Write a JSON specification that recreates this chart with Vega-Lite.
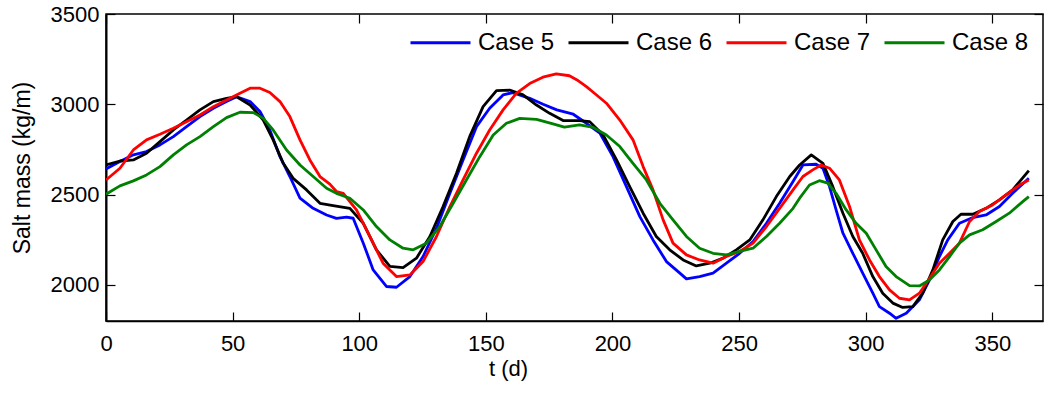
{
  "$schema": "https://vega.github.io/schema/vega-lite/v6.json",
  "width": 937,
  "height": 307,
  "autosize": "none",
  "padding": {"left": 106, "top": 14, "right": 3, "bottom": 73},
  "config": {
    "view": {"stroke": "black", "strokeWidth": 1.5},
    "font": "Liberation Sans",
    "axis": {"labelFont": "Liberation Sans", "titleFont": "Liberation Sans", "labelColor": "black", "titleColor": "black", "tickColor": "black", "domainColor": "black", "grid": false, "tickWidth": 1.2}
  },
  "data": {"values": [
    {"c":"Case 5","t":0,"v":2642},{"c":"Case 5","t":5.5,"v":2683},{"c":"Case 5","t":10.8,"v":2720},{"c":"Case 5","t":16,"v":2738},{"c":"Case 5","t":21.3,"v":2775},{"c":"Case 5","t":26.6,"v":2821},{"c":"Case 5","t":31.8,"v":2876},{"c":"Case 5","t":37.1,"v":2932},{"c":"Case 5","t":42.4,"v":2978},{"c":"Case 5","t":47.6,"v":3015},{"c":"Case 5","t":51.6,"v":3042},{"c":"Case 5","t":56.9,"v":3015},{"c":"Case 5","t":60.8,"v":2960},{"c":"Case 5","t":64.7,"v":2858},{"c":"Case 5","t":68.7,"v":2710},{"c":"Case 5","t":72.6,"v":2600},{"c":"Case 5","t":76.6,"v":2480},{"c":"Case 5","t":81.8,"v":2424},{"c":"Case 5","t":87.1,"v":2387},{"c":"Case 5","t":91,"v":2368},{"c":"Case 5","t":95,"v":2375},{"c":"Case 5","t":97.6,"v":2369},{"c":"Case 5","t":101.6,"v":2231},{"c":"Case 5","t":105.5,"v":2083},{"c":"Case 5","t":110.8,"v":1991},{"c":"Case 5","t":114.7,"v":1987},{"c":"Case 5","t":120,"v":2046},{"c":"Case 5","t":125.2,"v":2157},{"c":"Case 5","t":130.5,"v":2314},{"c":"Case 5","t":135.8,"v":2507},{"c":"Case 5","t":141,"v":2692},{"c":"Case 5","t":146.3,"v":2876},{"c":"Case 5","t":151.5,"v":2978},{"c":"Case 5","t":156.8,"v":3052},{"c":"Case 5","t":160.6,"v":3065},{"c":"Case 5","t":167.3,"v":3033},{"c":"Case 5","t":172.6,"v":3000},{"c":"Case 5","t":178,"v":2969},{"c":"Case 5","t":184.5,"v":2945},{"c":"Case 5","t":189.7,"v":2895},{"c":"Case 5","t":195,"v":2840},{"c":"Case 5","t":200.2,"v":2710},{"c":"Case 5","t":205.5,"v":2544},{"c":"Case 5","t":210.8,"v":2378},{"c":"Case 5","t":216,"v":2249},{"c":"Case 5","t":221.3,"v":2129},{"c":"Case 5","t":226.6,"v":2065},{"c":"Case 5","t":229.2,"v":2033},{"c":"Case 5","t":234.4,"v":2046},{"c":"Case 5","t":239.7,"v":2065},{"c":"Case 5","t":245,"v":2120},{"c":"Case 5","t":250.2,"v":2175},{"c":"Case 5","t":255.5,"v":2240},{"c":"Case 5","t":260.8,"v":2341},{"c":"Case 5","t":266,"v":2452},{"c":"Case 5","t":271.3,"v":2572},{"c":"Case 5","t":275.2,"v":2664},{"c":"Case 5","t":280.4,"v":2668},{"c":"Case 5","t":283.1,"v":2646},{"c":"Case 5","t":285.7,"v":2544},{"c":"Case 5","t":288.3,"v":2415},{"c":"Case 5","t":291,"v":2286},{"c":"Case 5","t":294.9,"v":2175},{"c":"Case 5","t":298.8,"v":2065},{"c":"Case 5","t":302.8,"v":1954},{"c":"Case 5","t":305.4,"v":1880},{"c":"Case 5","t":309.4,"v":1843},{"c":"Case 5","t":312,"v":1815},{"c":"Case 5","t":316,"v":1843},{"c":"Case 5","t":321.2,"v":1917},{"c":"Case 5","t":325.2,"v":2028},{"c":"Case 5","t":329.1,"v":2157},{"c":"Case 5","t":332.4,"v":2249},{"c":"Case 5","t":337,"v":2341},{"c":"Case 5","t":342.3,"v":2373},{"c":"Case 5","t":347.5,"v":2387},{"c":"Case 5","t":352.8,"v":2434},{"c":"Case 5","t":358,"v":2507},{"c":"Case 5","t":364.4,"v":2590},
    {"c":"Case 6","t":0,"v":2664},{"c":"Case 6","t":5.5,"v":2686},{"c":"Case 6","t":10.8,"v":2692},{"c":"Case 6","t":16,"v":2729},{"c":"Case 6","t":21.3,"v":2793},{"c":"Case 6","t":26.6,"v":2858},{"c":"Case 6","t":31.8,"v":2913},{"c":"Case 6","t":37.1,"v":2969},{"c":"Case 6","t":42.4,"v":3015},{"c":"Case 6","t":47.6,"v":3033},{"c":"Case 6","t":51.6,"v":3042},{"c":"Case 6","t":56.9,"v":2996},{"c":"Case 6","t":62.1,"v":2913},{"c":"Case 6","t":66,"v":2803},{"c":"Case 6","t":70,"v":2673},{"c":"Case 6","t":73.9,"v":2590},{"c":"Case 6","t":79.2,"v":2526},{"c":"Case 6","t":84.5,"v":2452},{"c":"Case 6","t":89.7,"v":2439},{"c":"Case 6","t":96.3,"v":2424},{"c":"Case 6","t":101.6,"v":2341},{"c":"Case 6","t":106.8,"v":2194},{"c":"Case 6","t":112.1,"v":2102},{"c":"Case 6","t":117.3,"v":2096},{"c":"Case 6","t":122.6,"v":2148},{"c":"Case 6","t":127.9,"v":2268},{"c":"Case 6","t":133.1,"v":2434},{"c":"Case 6","t":138.4,"v":2618},{"c":"Case 6","t":143.6,"v":2821},{"c":"Case 6","t":148.9,"v":2987},{"c":"Case 6","t":154.2,"v":3076},{"c":"Case 6","t":159.4,"v":3079},{"c":"Case 6","t":164.7,"v":3052},{"c":"Case 6","t":170,"v":2996},{"c":"Case 6","t":175.2,"v":2950},{"c":"Case 6","t":180.5,"v":2910},{"c":"Case 6","t":187.1,"v":2910},{"c":"Case 6","t":191,"v":2904},{"c":"Case 6","t":196.3,"v":2830},{"c":"Case 6","t":201.6,"v":2692},{"c":"Case 6","t":206.8,"v":2544},{"c":"Case 6","t":212.1,"v":2397},{"c":"Case 6","t":217.3,"v":2268},{"c":"Case 6","t":222.6,"v":2194},{"c":"Case 6","t":227.9,"v":2138},{"c":"Case 6","t":233.1,"v":2105},{"c":"Case 6","t":238.4,"v":2120},{"c":"Case 6","t":243.7,"v":2148},{"c":"Case 6","t":248.9,"v":2194},{"c":"Case 6","t":254.2,"v":2249},{"c":"Case 6","t":259.4,"v":2360},{"c":"Case 6","t":264.7,"v":2489},{"c":"Case 6","t":270,"v":2600},{"c":"Case 6","t":273.9,"v":2664},{"c":"Case 6","t":278.5,"v":2720},{"c":"Case 6","t":283.1,"v":2673},{"c":"Case 6","t":287,"v":2544},{"c":"Case 6","t":291,"v":2397},{"c":"Case 6","t":294.9,"v":2268},{"c":"Case 6","t":298.8,"v":2175},{"c":"Case 6","t":302.8,"v":2046},{"c":"Case 6","t":306.7,"v":1954},{"c":"Case 6","t":310.7,"v":1899},{"c":"Case 6","t":314.6,"v":1875},{"c":"Case 6","t":318.6,"v":1880},{"c":"Case 6","t":322.5,"v":1954},{"c":"Case 6","t":326.5,"v":2083},{"c":"Case 6","t":330.4,"v":2249},{"c":"Case 6","t":334.4,"v":2351},{"c":"Case 6","t":337.6,"v":2391},{"c":"Case 6","t":342.3,"v":2391},{"c":"Case 6","t":347.5,"v":2424},{"c":"Case 6","t":352.8,"v":2471},{"c":"Case 6","t":358,"v":2526},{"c":"Case 6","t":364.4,"v":2633},
    {"c":"Case 7","t":0,"v":2581},{"c":"Case 7","t":5.5,"v":2646},{"c":"Case 7","t":10.8,"v":2747},{"c":"Case 7","t":16,"v":2803},{"c":"Case 7","t":21.3,"v":2834},{"c":"Case 7","t":26.6,"v":2867},{"c":"Case 7","t":31.8,"v":2904},{"c":"Case 7","t":37.1,"v":2941},{"c":"Case 7","t":42.4,"v":2987},{"c":"Case 7","t":47.6,"v":3024},{"c":"Case 7","t":52.9,"v":3061},{"c":"Case 7","t":56.9,"v":3089},{"c":"Case 7","t":60.8,"v":3089},{"c":"Case 7","t":64.7,"v":3065},{"c":"Case 7","t":68.7,"v":3015},{"c":"Case 7","t":72.6,"v":2932},{"c":"Case 7","t":76.6,"v":2803},{"c":"Case 7","t":80.5,"v":2692},{"c":"Case 7","t":84.5,"v":2600},{"c":"Case 7","t":88.4,"v":2558},{"c":"Case 7","t":91,"v":2517},{"c":"Case 7","t":93.7,"v":2507},{"c":"Case 7","t":98.9,"v":2415},{"c":"Case 7","t":104.2,"v":2268},{"c":"Case 7","t":109.4,"v":2120},{"c":"Case 7","t":114.7,"v":2046},{"c":"Case 7","t":120,"v":2055},{"c":"Case 7","t":125.2,"v":2129},{"c":"Case 7","t":130.5,"v":2268},{"c":"Case 7","t":135.8,"v":2434},{"c":"Case 7","t":141,"v":2581},{"c":"Case 7","t":146.3,"v":2729},{"c":"Case 7","t":151.5,"v":2858},{"c":"Case 7","t":156.8,"v":2969},{"c":"Case 7","t":162,"v":3061},{"c":"Case 7","t":167.3,"v":3115},{"c":"Case 7","t":172.5,"v":3150},{"c":"Case 7","t":177.8,"v":3168},{"c":"Case 7","t":183,"v":3158},{"c":"Case 7","t":186,"v":3135},{"c":"Case 7","t":189.7,"v":3098},{"c":"Case 7","t":193,"v":3060},{"c":"Case 7","t":197.6,"v":3006},{"c":"Case 7","t":202.9,"v":2913},{"c":"Case 7","t":208.1,"v":2803},{"c":"Case 7","t":212.1,"v":2655},{"c":"Case 7","t":216,"v":2526},{"c":"Case 7","t":220,"v":2360},{"c":"Case 7","t":223.9,"v":2231},{"c":"Case 7","t":229.2,"v":2166},{"c":"Case 7","t":234.4,"v":2138},{"c":"Case 7","t":239.7,"v":2120},{"c":"Case 7","t":245,"v":2157},{"c":"Case 7","t":250.2,"v":2185},{"c":"Case 7","t":255.5,"v":2231},{"c":"Case 7","t":260.8,"v":2323},{"c":"Case 7","t":266,"v":2424},{"c":"Case 7","t":271.3,"v":2526},{"c":"Case 7","t":275.2,"v":2600},{"c":"Case 7","t":279.1,"v":2637},{"c":"Case 7","t":282.4,"v":2664},{"c":"Case 7","t":285.7,"v":2646},{"c":"Case 7","t":289.6,"v":2581},{"c":"Case 7","t":293.6,"v":2434},{"c":"Case 7","t":297.5,"v":2249},{"c":"Case 7","t":301.5,"v":2138},{"c":"Case 7","t":305.4,"v":2046},{"c":"Case 7","t":309.4,"v":1972},{"c":"Case 7","t":313.3,"v":1926},{"c":"Case 7","t":317.3,"v":1917},{"c":"Case 7","t":321.2,"v":1954},{"c":"Case 7","t":325.2,"v":2037},{"c":"Case 7","t":329.1,"v":2120},{"c":"Case 7","t":333.1,"v":2175},{"c":"Case 7","t":337,"v":2231},{"c":"Case 7","t":341,"v":2351},{"c":"Case 7","t":344.9,"v":2406},{"c":"Case 7","t":350.1,"v":2443},{"c":"Case 7","t":355.4,"v":2498},{"c":"Case 7","t":360.7,"v":2553},{"c":"Case 7","t":364.4,"v":2581},
    {"c":"Case 8","t":0,"v":2502},{"c":"Case 8","t":5.5,"v":2548},{"c":"Case 8","t":10.8,"v":2576},{"c":"Case 8","t":16,"v":2609},{"c":"Case 8","t":21.3,"v":2655},{"c":"Case 8","t":26.6,"v":2720},{"c":"Case 8","t":31.8,"v":2775},{"c":"Case 8","t":37.1,"v":2821},{"c":"Case 8","t":42.4,"v":2876},{"c":"Case 8","t":47.6,"v":2926},{"c":"Case 8","t":52.9,"v":2956},{"c":"Case 8","t":58.2,"v":2954},{"c":"Case 8","t":62.1,"v":2922},{"c":"Case 8","t":66,"v":2858},{"c":"Case 8","t":71.3,"v":2747},{"c":"Case 8","t":76.6,"v":2664},{"c":"Case 8","t":81.8,"v":2600},{"c":"Case 8","t":87.1,"v":2535},{"c":"Case 8","t":91,"v":2507},{"c":"Case 8","t":96.3,"v":2480},{"c":"Case 8","t":101.6,"v":2415},{"c":"Case 8","t":106.8,"v":2323},{"c":"Case 8","t":112.1,"v":2249},{"c":"Case 8","t":117.3,"v":2203},{"c":"Case 8","t":121.3,"v":2194},{"c":"Case 8","t":126.5,"v":2231},{"c":"Case 8","t":131.8,"v":2323},{"c":"Case 8","t":137.1,"v":2452},{"c":"Case 8","t":142.3,"v":2581},{"c":"Case 8","t":147.6,"v":2710},{"c":"Case 8","t":152.9,"v":2830},{"c":"Case 8","t":158.1,"v":2895},{"c":"Case 8","t":163.4,"v":2922},{"c":"Case 8","t":170,"v":2917},{"c":"Case 8","t":176.5,"v":2892},{"c":"Case 8","t":181,"v":2874},{"c":"Case 8","t":187,"v":2886},{"c":"Case 8","t":192.4,"v":2872},{"c":"Case 8","t":197.6,"v":2830},{"c":"Case 8","t":202.9,"v":2766},{"c":"Case 8","t":208.1,"v":2673},{"c":"Case 8","t":213.4,"v":2581},{"c":"Case 8","t":218.7,"v":2452},{"c":"Case 8","t":223.9,"v":2360},{"c":"Case 8","t":229.2,"v":2268},{"c":"Case 8","t":234.4,"v":2203},{"c":"Case 8","t":239.7,"v":2175},{"c":"Case 8","t":245,"v":2166},{"c":"Case 8","t":250.2,"v":2185},{"c":"Case 8","t":255.5,"v":2203},{"c":"Case 8","t":260.8,"v":2268},{"c":"Case 8","t":266,"v":2341},{"c":"Case 8","t":271.3,"v":2424},{"c":"Case 8","t":273.9,"v":2480},{"c":"Case 8","t":277.8,"v":2553},{"c":"Case 8","t":281.7,"v":2577},{"c":"Case 8","t":285,"v":2563},{"c":"Case 8","t":288.3,"v":2507},{"c":"Case 8","t":292.3,"v":2415},{"c":"Case 8","t":296.2,"v":2341},{"c":"Case 8","t":300.2,"v":2286},{"c":"Case 8","t":304.1,"v":2194},{"c":"Case 8","t":308,"v":2102},{"c":"Case 8","t":312,"v":2046},{"c":"Case 8","t":317.3,"v":1996},{"c":"Case 8","t":321.2,"v":1994},{"c":"Case 8","t":325.2,"v":2028},{"c":"Case 8","t":329.1,"v":2083},{"c":"Case 8","t":333.1,"v":2157},{"c":"Case 8","t":337,"v":2231},{"c":"Case 8","t":341,"v":2277},{"c":"Case 8","t":346.2,"v":2305},{"c":"Case 8","t":351.5,"v":2351},{"c":"Case 8","t":356.7,"v":2397},{"c":"Case 8","t":362,"v":2461},{"c":"Case 8","t":364.4,"v":2489}
  ]},
  "resolve": {"axis": {"x": "independent", "y": "independent"}},
  "layer": [
    {
      "mark": {"type": "line", "strokeWidth": 2.8, "strokeJoin": "round", "clip": true},
      "encoding": {
        "x": {"field": "t", "type": "quantitative",
              "scale": {"domain": [0, 370], "nice": false, "zero": false},
              "axis": {"orient": "bottom", "values": [0,50,100,150,200,250,300,350], "format": "d", "tickSize": -9, "labelPadding": 21, "labelFontSize": 22, "labelFlush": false, "domainWidth": 1.5, "title": "t (d)", "titleFontSize": 22, "titleFontWeight": "normal", "titleX": 402, "titleY": 47, "titleBaseline": "middle", "titleAlign": "center"}},
        "y": {"field": "v", "type": "quantitative",
              "scale": {"domain": [1800, 3500], "nice": false, "zero": false},
              "axis": {"orient": "left", "values": [2000,2500,3000,3500], "format": "d", "tickSize": -9, "labelPadding": 16, "labelFontSize": 22, "labelFlush": false, "domainWidth": 2, "title": "Salt mass (kg/m)", "titleFontSize": 23, "titleFontWeight": "normal", "titleX": -84, "titleY": 153.5, "titleBaseline": "middle", "titleAlign": "center", "titleAngle": -90}},
        "color": {"field": "c", "type": "nominal",
                  "scale": {"domain": ["Case 5","Case 6","Case 7","Case 8"], "range": ["#0000ff","#000000","#ff0000","#008000"]},
                  "legend": {"title": null, "orient": "none", "direction": "horizontal", "legendX": 303, "legendY": -3, "symbolType": "stroke", "symbolSize": 3600, "symbolStrokeWidth": 3, "labelFontSize": 24, "labelFont": "Liberation Sans", "labelColor": "black", "labelOffset": 6, "columnPadding": 7, "padding": 0, "labelLimit": 300}}
      }
    },
    {
      "mark": {"type": "point", "opacity": 0},
      "encoding": {
        "x": {"field": "t", "type": "quantitative",
              "axis": {"orient": "top", "values": [0,50,100,150,200,250,300,350], "tickSize": -9, "labels": false, "title": null, "domain": false}},
        "y": {"field": "v", "type": "quantitative",
              "axis": {"orient": "right", "values": [2000,2500,3000,3500], "tickSize": -9, "labels": false, "title": null, "domain": false}}
      }
    }
  ]
}
